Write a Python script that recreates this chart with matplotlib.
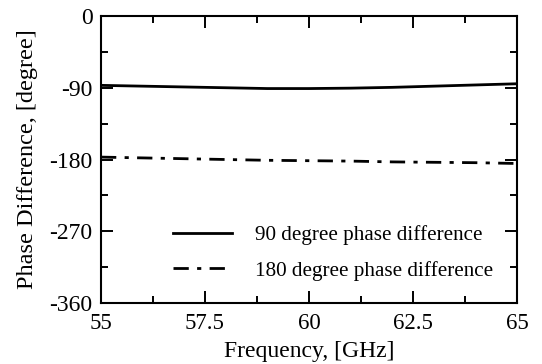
import numpy as np
import matplotlib
matplotlib.use('Agg')
import matplotlib.pyplot as plt
from matplotlib.ticker import MultipleLocator

plt.rcParams['font.family'] = ['Liberation Serif', 'DejaVu Serif']
plt.rcParams['lines.scale_dashes'] = False

# data
freq = [55, 56, 57, 58, 59, 60, 61, 62, 63, 64, 65]
phase_90 = [-87, -88, -89, -90, -91, -91, -90.5, -89.5, -88, -86.5, -85]
phase_180 = [-177, -178, -179, -180, -181, -181.5, -182, -183, -183.5, -184, -185]
x_ticks = [55, 57.5, 60, 62.5, 65]
x_tick_labels = ['55', '57.5', '60', '62.5', '65']
y_ticks = [-360, -270, -180, -90, 0]
y_tick_labels = ['-360', '-270', '-180', '-90', '0']

fig = plt.figure(figsize=(5.42, 3.64), dpi=100)
ax = fig.add_axes([101/542, 61/364, 416/542, 287/364])

ax.plot(freq, phase_90, color='black', lw=2.0, label='90 degree phase difference')
ax.plot(freq, phase_180, color='black', lw=2.0, dashes=(11, 6, 3, 6),
        label='180 degree phase difference')

ax.set_xlim(55, 65)
ax.set_ylim(-360, 0)
ax.set_xticks(x_ticks)
ax.set_xticklabels(x_tick_labels)
ax.set_yticks(y_ticks)
ax.set_yticklabels(y_tick_labels)
ax.xaxis.set_minor_locator(MultipleLocator(1.25))
ax.yaxis.set_minor_locator(MultipleLocator(45))
ax.tick_params(which='both', direction='in', top=True, right=True,
               width=1.4, labelsize=16.5, colors='black')
ax.tick_params(axis='y', labelsize=17)
ax.tick_params(which='major', length=8.5)
ax.tick_params(axis='x', which='major', pad=7)
ax.tick_params(axis='y', which='major', pad=6)
ax.tick_params(which='minor', length=5)
for s in ax.spines.values():
    s.set_linewidth(1.5)

ax.set_xlabel('Frequency, [GHz]', fontsize=17, labelpad=5)
ax.set_ylabel('Phase Difference, [degree]', fontsize=17.5, labelpad=8)

leg = ax.legend(loc='center left', bbox_to_anchor=(0.173, 0.174), frameon=False,
                fontsize=15.2, handlelength=2.8, handletextpad=1.1,
                labelspacing=0.72, borderpad=0, borderaxespad=0)

fig.savefig('out.png', dpi=100)
